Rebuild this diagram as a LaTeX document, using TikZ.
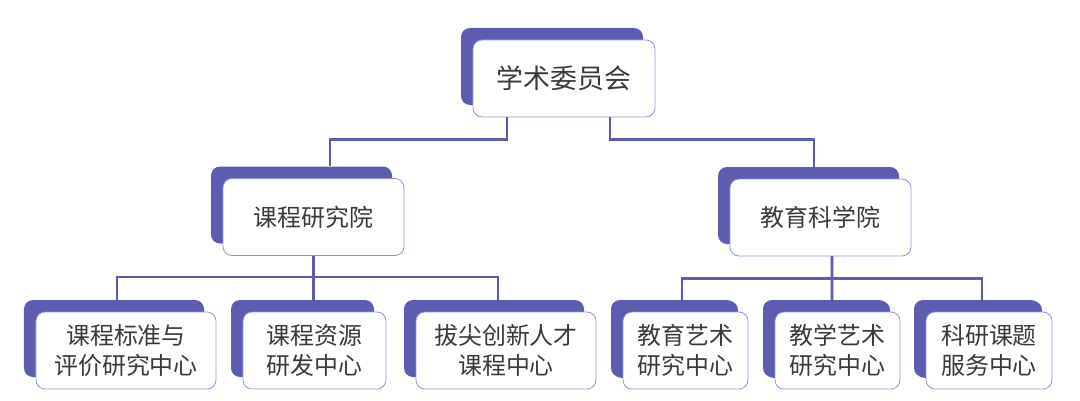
\documentclass[tikz,border=0pt]{standalone}
\usepackage{fontspec}
\newfontfamily\cjk{Noto Sans CJK SC}
\usetikzlibrary{calc,shadows}
\definecolor{purp}{HTML}{5C5CB1}
\definecolor{rim}{HTML}{9595D6}
\definecolor{ink}{HTML}{3A3A3A}
\tikzset{
  unit/.style={draw=rim, line width=0.8bp, fill=white, rounded corners=9bp,
    text=ink, align=center, inner sep=0pt, minimum height=77bp,
    font=\cjk\fontsize{24}{30}\selectfont,
    general shadow={fill=purp, draw=none, shadow xshift=-12bp, shadow yshift=12bp}},
  link/.style={draw=purp, line width=2.6bp},
}

\begin{document}
\begin{tikzpicture}[x=1bp,y=1bp]
\useasboundingbox (0,0) rectangle (1080,400);

% top level
\node[unit, minimum width=182bp, font=\cjk\fontsize{27}{30}\selectfont] (xsh) at (564,321.5) {学术委员会};

% second level
\node[unit, minimum width=181bp] (kc) at (313.5,183) {课程研究院};
\node[unit, minimum width=181bp] (jk) at (820.5,182.5) {教育科学院};

% third level
\node[unit, minimum width=180bp] (kc1) at (126,49.5) {课程标准与\\评价研究中心};
\node[unit, minimum width=143bp] (kc2) at (314.5,49.5) {课程资源\\研发中心};
\node[unit, minimum width=180bp] (kc3) at (506,49.5) {拔尖创新人才\\课程中心};
\node[unit, minimum width=125bp, general shadow={fill=purp, shadow xshift=-10bp, shadow yshift=11bp}] (jk1) at (685.5,49.5) {教育艺术\\研究中心};
\node[unit, minimum width=125bp, general shadow={fill=purp, shadow xshift=-10bp, shadow yshift=11bp}] (jk2) at (837.5,49.5) {教学艺术\\研究中心};
\node[unit, minimum width=126bp, general shadow={fill=purp, shadow xshift=-10bp, shadow yshift=11bp}] (jk3) at (989,49.5) {科研课题\\服务中心};

% links
\draw[link] ($(xsh.south)+(-57,0)$) -- ++(0,-22) -| ($(kc.north)+(16.5,12)$);
\draw[link] ($(xsh.south)+(46,0)$) -- ++(0,-22) -| ($(jk.north)+(-6.5,12)$);

\draw[link] (kc.south) -- ++(0,-21) -| ($(kc1.north)+(-9,12)$);
\draw[link] (kc.south) -- ($(kc.south |- kc2.north)+(0,12)$);
\draw[link] (kc.south) -- ++(0,-21) -| ($(kc3.north)+(-8,12)$);

\draw[link] ($(jk.south)+(11.5,0)$) -- ++(0,-22) -| ($(jk1.north)+(-3.5,11)$);
\draw[link] ($(jk.south)+(11.5,0)$) -- ($(jk2.north)+(-5.5,11)$);
\draw[link] ($(jk.south)+(11.5,0)$) -- ++(0,-22) -| ($(jk3.north)+(-7,11)$);
\end{tikzpicture}
\end{document}
